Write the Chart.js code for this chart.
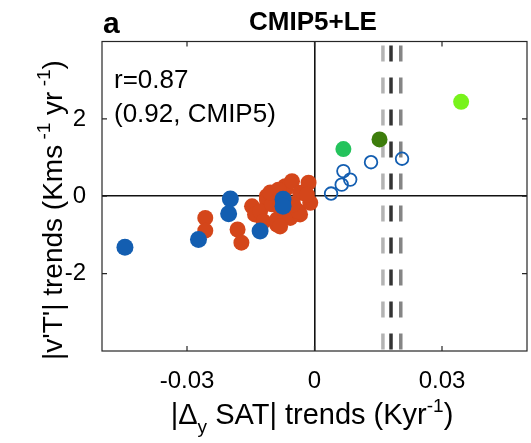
<!DOCTYPE html>
<html>
<head>
<meta charset="utf-8">
<script src="https://cdn.jsdelivr.net/npm/chart.js@4"></script>
<style>
  html, body { margin: 0; padding: 0; background: #fff; }
  canvas { display: block; }
</style>
</head>
<body>
<canvas id="chart" width="531" height="443"></canvas>
<script>
// values
const xTicks = [-0.03, 0, 0.03];
const yTicks = [-2, 0, 2];
const xTickLabels = ['-0.03', '0', '0.03'];
const yTickLabels = ['-2', '0', '2'];

const largeEnsemble = [
  [-0.0257, -0.56], [-0.0257, -0.89], [-0.0181, -0.86], [-0.0172, -1.20],
  [-0.0147, -0.26], [-0.0140, -0.47], [-0.0112, 0.00], [-0.0112, -0.09],
  [-0.0128, -0.39], [-0.0120, -0.65], [-0.0088, -0.73], [-0.0088, -0.60],
  [-0.0069, 0.26], [-0.0069, 0.17], [-0.0053, 0.39], [-0.0057, -0.56],
  [-0.0034, -0.47], [-0.0038, -0.39], [-0.0034, 0.09], [-0.0014, 0.35],
  [-0.0010, -0.17], [-0.0018, 0.04], [-0.0100, -0.21], [-0.0081, -0.29],
  [-0.0050, -0.21], [-0.0104, 0.10], [-0.0085, 0.17], [-0.0081, -0.78]
];
const cmip5Neg = [
  [-0.0446, -1.32], [-0.0273, -1.12], [-0.0198, -0.07], [-0.0202, -0.45],
  [-0.0128, -0.90], [-0.0074, -0.08], [-0.0074, -0.26]
];
const cmip5Pos = [
  [0.0039, 0.07], [0.0064, 0.30], [0.0084, 0.43], [0.0068, 0.65],
  [0.0133, 0.88], [0.0206, 0.97]
];
const obsPoints = [[0.0068, 1.22], [0.0153, 1.47], [0.0345, 2.44]];
const obsColors = ['#24c35c', '#3d7d0c', '#78f31b'];

const obsLinesX = [0.0161, 0.0180, 0.0203];
const obsLineColors = ['#b3b3b3', '#333333', '#858585'];

const toXY = arr => arr.map(p => ({ x: p[0], y: p[1] }));

const FONT = '"Liberation Sans", Arial, Helvetica, sans-serif';

const datasets = [];
obsLinesX.forEach((v, i) => {
  datasets.push({
    type: 'line',
    data: [{ x: v, y: 4 }, { x: v, y: -4 }],
    borderColor: obsLineColors[i],
    borderWidth: 3.5,
    borderDash: [16, 16],
    borderDashOffset: 28,
    pointRadius: 0,
    order: 10
  });
});
datasets.push({
  data: toXY(largeEnsemble),
  backgroundColor: '#d4461a',
  borderWidth: 0,
  pointRadius: 8,
  order: 5
});
datasets.push({
  data: toXY(cmip5Neg),
  backgroundColor: '#135eb1',
  borderWidth: 0,
  pointRadius: 8.5,
  order: 4
});
datasets.push({
  data: toXY(cmip5Pos),
  backgroundColor: 'rgba(0,0,0,0)',
  borderColor: '#135eb1',
  borderWidth: 1.8,
  pointRadius: 6.3,
  order: 3
});
datasets.push({
  data: toXY(obsPoints),
  backgroundColor: obsColors,
  borderWidth: 0,
  pointRadius: 8,
  order: 2
});

function drawRich(ctx, parts, x, y) {
  let total = 0;
  parts.forEach(p => {
    ctx.font = (p.bold ? 'bold ' : '') + p.size + 'px ' + FONT;
    p.w = ctx.measureText(p.t).width;
    total += p.w;
  });
  let cx = x - total / 2;
  ctx.textAlign = 'left';
  ctx.textBaseline = 'alphabetic';
  parts.forEach(p => {
    ctx.font = (p.bold ? 'bold ' : '') + p.size + 'px ' + FONT;
    ctx.fillText(p.t, cx, y + (p.dy || 0));
    cx += p.w;
  });
}

const framePlugin = {
  id: 'frame',
  beforeDraw(chart) {
    const ctx = chart.ctx;
    ctx.save();
    ctx.fillStyle = '#fff';
    ctx.fillRect(0, 0, chart.width, chart.height);
    ctx.restore();
  },
  afterDraw(chart) {
    const ctx = chart.ctx;
    const a = chart.chartArea;
    const xs = chart.scales.x, ys = chart.scales.y;
    ctx.save();
    ctx.strokeStyle = '#262626';
    ctx.lineWidth = 1.2;
    ctx.strokeRect(a.left, a.top, a.right - a.left, a.bottom - a.top);
    // inward ticks on all four sides
    ctx.beginPath();
    xTicks.forEach(v => {
      const px = xs.getPixelForValue(v);
      ctx.moveTo(px, a.bottom); ctx.lineTo(px, a.bottom - 5);
      ctx.moveTo(px, a.top); ctx.lineTo(px, a.top + 5);
    });
    yTicks.forEach(v => {
      const py = ys.getPixelForValue(v);
      ctx.moveTo(a.left, py); ctx.lineTo(a.left + 5, py);
      ctx.moveTo(a.right, py); ctx.lineTo(a.right - 5, py);
    });
    ctx.stroke();

    ctx.fillStyle = '#000';
    // panel letter and title
    ctx.font = 'bold 30px ' + FONT;
    ctx.textAlign = 'left';
    ctx.textBaseline = 'alphabetic';
    ctx.fillText('a', 103, 33);
    ctx.font = 'bold 26px ' + FONT;
    ctx.textAlign = 'center';
    ctx.fillText('CMIP5+LE', 313, 30);

    // correlation text
    ctx.font = '26px ' + FONT;
    ctx.textAlign = 'left';
    ctx.fillText('r=0.87', 114, 88);
    ctx.fillText('(0.92, CMIP5)', 114, 122);

    // x axis title
    drawRich(ctx, [
      { t: '|\u0394', size: 29 },
      { t: 'y', size: 19, dy: 9 },
      { t: ' SAT| trends (Kyr', size: 29 },
      { t: '-1', size: 19, dy: -12 },
      { t: ')', size: 29 }
    ], 312, 424);

    // y axis title
    ctx.translate(62, 210);
    ctx.rotate(-Math.PI / 2);
    drawRich(ctx, [
      { t: "|v'T'| trends (Kms", size: 28 },
      { t: ' -1', size: 19, dy: -12 },
      { t: ' yr', size: 28 },
      { t: ' -1', size: 19, dy: -12 },
      { t: ')', size: 28 }
    ], 0, 0);
    ctx.restore();
  }
};

new Chart(document.getElementById('chart'), {
  type: 'scatter',
  data: { datasets },
  options: {
    responsive: false,
    animation: false,
    layout: { autoPadding: false, padding: { top: 41.5, right: 4, left: 0, bottom: 0 } },
    plugins: { legend: { display: false }, tooltip: { enabled: false } },
    scales: {
      x: {
        type: 'linear',
        min: -0.05,
        max: 0.05,
        afterBuildTicks: s => { s.ticks = xTicks.map(v => ({ value: v })); },
        afterFit: s => { s.height = 92; },
        ticks: {
          padding: 16,
          color: '#000',
          font: { family: FONT, size: 24 },
          callback: (v) => xTickLabels[xTicks.indexOf(v)]
        },
        grid: {
          drawTicks: false,
          color: c => (c.tick && c.tick.value === 0 ? '#111' : 'rgba(0,0,0,0)'),
          lineWidth: 1.6
        },
        border: { display: false }
      },
      y: {
        type: 'linear',
        min: -4,
        max: 4,
        afterBuildTicks: s => { s.ticks = yTicks.map(v => ({ value: v })); },
        afterFit: s => { s.width = 102; },
        ticks: {
          padding: 16,
          color: '#000',
          font: { family: FONT, size: 24 },
          callback: (v) => yTickLabels[yTicks.indexOf(v)]
        },
        grid: {
          drawTicks: false,
          color: c => (c.tick && c.tick.value === 0 ? '#111' : 'rgba(0,0,0,0)'),
          lineWidth: 1.6
        },
        border: { display: false }
      }
    }
  },
  plugins: [framePlugin]
});
</script>
</body>
</html>
